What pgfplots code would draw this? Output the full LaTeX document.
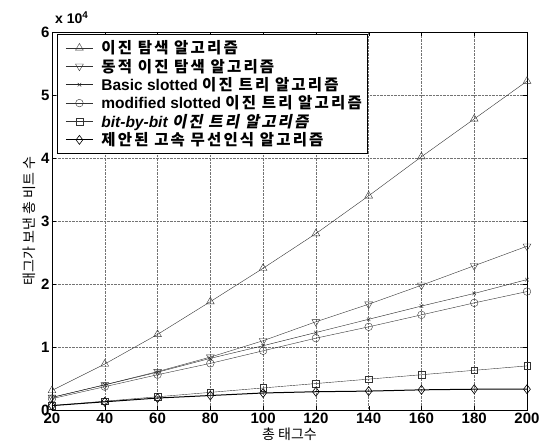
\documentclass[border=0pt]{standalone}
\usepackage{pgfplots}
\pgfplotsset{compat=1.18}
\usepackage{fontspec}
\setmainfont{Liberation Sans}
\newfontfamily\kr{Noto Sans CJK KR}
\newfontfamily\krl[LetterSpace=14]{Noto Sans CJK KR}
\newfontfamily\krit[FakeSlant=0.2,LetterSpace=14]{Noto Sans CJK KR}
\begin{document}
\begin{tikzpicture}
\useasboundingbox (-52pt,-37pt) rectangle (501pt,410pt);
\begin{axis}[
  name=ax,
  scale only axis, width=475pt, height=378pt,
  xmin=20, xmax=200, ymin=0, ymax=6,
  xtick={20,40,...,200}, ytick={0,1,...,6},
  grid=major, grid style={densely dotted, black!55},
  tick align=inside, tick style={black}, major tick length=4pt,
  axis line style={black},
  /pgf/number format/assume math mode=true,
  ticklabel style={font=\fontsize{15}{17}\selectfont\bfseries},
  xticklabel style={yshift=1pt},
  yticklabel style={xshift=1pt},
  xlabel={\kr 총 태그수}, ylabel={\kr 태그가 보낸 총 비트 수},
  label style={font=\fontsize{14}{16}\selectfont},
  xlabel style={yshift=2pt},
  ylabel style={yshift=-1pt},
  legend cell align=left,
  legend style={at={(axis description cs:0.011,0.995)}, anchor=north west,
    font=\fontsize{15.5}{17}\selectfont, draw=black, row sep=-0.2pt,
    inner xsep=3pt, inner ysep=4.5pt},
  legend image code/.code={\path (0pt,0pt) (38pt,0pt); \draw[mark repeat=2,mark phase=2] plot coordinates {(5pt,0pt) (18.5pt,0pt) (32pt,0pt)};},
  every axis plot/.append style={line width=0.4pt},
]
\addplot[black!80, mark=triangle, mark size=4.5pt] coordinates {
(20,0.31) (40,0.73) (60,1.20) (80,1.72) (100,2.25) (120,2.80) (140,3.40) (160,4.02) (180,4.62) (200,5.22)};
\addlegendentry{\krl\bfseries 이진 탐색 알고리즘}
\addplot[black!80, mark=triangle, mark size=4.5pt, mark options={rotate=180}] coordinates {
(20,0.20) (40,0.40) (60,0.61) (80,0.84) (100,1.10) (120,1.40) (140,1.68) (160,1.98) (180,2.29) (200,2.60)};
\addlegendentry{\krl\bfseries 동적 이진 탐색 알고리즘}
\addplot[black!85, mark=x, mark size=2.5pt] coordinates {
(20,0.20) (40,0.40) (60,0.60) (80,0.82) (100,1.02) (120,1.23) (140,1.44) (160,1.65) (180,1.85) (200,2.07)};
\addlegendentry{\bfseries Basic slotted \krl 이진 트리 알고리즘}
\addplot[black!80, mark=o, mark size=3.8pt] coordinates {
(20,0.18) (40,0.37) (60,0.56) (80,0.74) (100,0.94) (120,1.14) (140,1.32) (160,1.51) (180,1.70) (200,1.88)};
\addlegendentry{\bfseries modified slotted \krl 이진 트리 알고리즘}
\addplot[black!80, mark=square, mark size=3.3pt] coordinates {
(20,0.07) (40,0.14) (60,0.21) (80,0.28) (100,0.35) (120,0.42) (140,0.49) (160,0.56) (180,0.63) (200,0.70)};
\addlegendentry{\bfseries\itshape bit-by-bit \krit 이진 트리 알고리즘}
\addplot[black, line width=1pt, mark=diamond, mark size=4.5pt, mark options={line width=0.6pt}] coordinates {
(20,0.07) (40,0.13) (60,0.19) (80,0.23) (100,0.27) (120,0.29) (140,0.30) (160,0.32) (180,0.33) (200,0.33)};
\addlegendentry{\krl\bfseries 제안된 고속 무선인식 알고리즘}
\end{axis}
\node[anchor=south west, inner sep=0pt, font=\fontsize{14}{16}\selectfont\bfseries] at ([xshift=3pt,yshift=8pt]ax.north west) {x 10\textsuperscript{4}};
\end{tikzpicture}
\end{document}
